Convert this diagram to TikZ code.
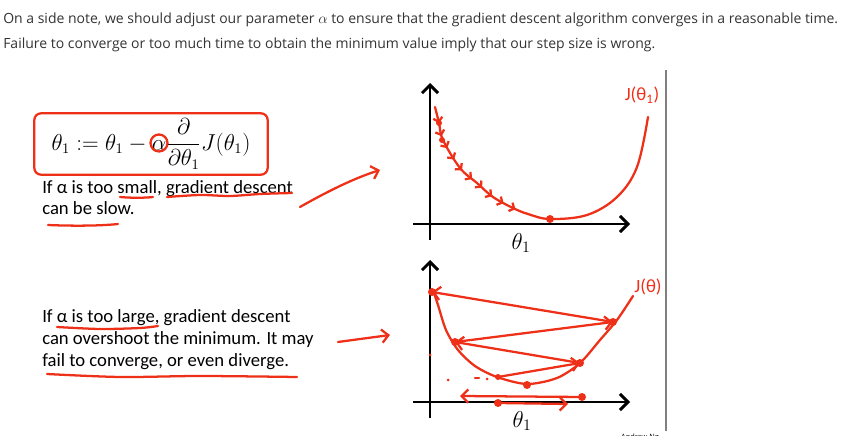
\documentclass[tikz,border=0pt]{standalone}
\usepackage[no-math]{fontspec}
\setmainfont{Carlito}
\newfontfamily\notefont{Open Sans}
\usetikzlibrary{arrows.meta,decorations.markings}
\definecolor{penred}{RGB}{238,48,24}
\definecolor{notegray}{RGB}{51,51,51}
\definecolor{rulegray}{RGB}{128,128,128}

\begin{document}
\begin{tikzpicture}[x=0.75pt, y=-0.75pt,
        note/.style   = {anchor=base west, inner sep=0pt, text=notegray,
                         font=\notefont\fontsize{10.5}{12}\selectfont},
        body/.style   = {anchor=base west, inner sep=0pt,
                         font=\fontsize{14}{16}\selectfont},
        pen/.style    = {draw=penred, line width=1.7pt, line cap=round,
                         line join=round},
        penarr/.style = {pen, -{Straight Barb[length=5pt,width=10pt]}},
        axis/.style   = {draw=black, line width=2.2pt,
                         -{Straight Barb[length=6pt,width=12pt]}},
        hand/.style   = {text=penred, inner sep=0pt,
                         font=\fontsize{14}{16}\selectfont},
        thlbl/.style  = {inner sep=0pt, font=\fontsize{17}{19}\selectfont}
    ]
        \useasboundingbox (0,0) rectangle (849,448);

        % note on top
        \node[note] (note1) at (3,24)
            {On a side note, we should adjust our parameter $\alpha$ to ensure that the gradient descent algorithm converges in a reasonable time.};
        \node[note] (note2) at (3,49)
            {Failure to converge or too much time to obtain the minimum value imply that our step size is wrong.};

        % update rule
        \node[draw=penred, line width=1.7pt, rounded corners=5pt,
              minimum width=175pt, minimum height=46pt, inner sep=0pt] (upd) at (151,144)
            {\fontsize{16}{19}\selectfont$\displaystyle \theta_1 := \theta_1 - \alpha\frac{\partial}{\partial\theta_1}J(\theta_1)$};
        \draw[pen] (159,143) circle (8.5);

        \node[body] (small1) at (42,194) {If α is too small, gradient descent};
        \node[body] (small2) at (42,215) {can be slow.};
        \node[body] (large1) at (42,323) {If α is too large, gradient descent};
        \node[body] (large2) at (42,345) {can overshoot the minimum. It may};
        \node[body] (large3) at (42,367) {fail to converge, or even diverge.};

        % underlines
        \draw[pen] (120,197) .. controls (130,198) and (145,198) .. (153,197);
        \draw[pen] plot[smooth] coordinates {(167,197) (200,195) (230,196) (260,194) (292,193)};
        \draw[pen] (48,225) .. controls (70,226) and (100,226) .. (118,224);
        \draw[pen] plot[smooth] coordinates {(57,327) (100,329) (140,328) (158,326)};
        \draw[pen] plot[smooth] coordinates {(47,374) (120,377) (200,376) (297,377)};

        % pointers
        \coordinate (ps) at (300,207);
        \coordinate (pe) at (380,170);
        \draw[penarr] (ps) .. controls (330,190) and (355,178) .. (pe);
        \coordinate (qs) at (338,342);
        \coordinate (qe) at (390,335);
        \draw[penarr] (qs) -- (qe);

        % small alpha
        \draw[axis] (430,240) -- (430,83);
        \draw[axis] (413,224) -- (630,224);
        \node[thlbl] (th1) at (521,243) {$\theta_1$};
        \draw[pen, postaction={decorate},
              decoration={markings, mark=between positions 0.05 and 0.42 step 0.04
                          with {\arrow{Straight Barb[length=3pt,width=7pt]}}}]
            plot[smooth, tension=0.6] coordinates {(435,107) (439,123) (443,140) (460,168)
                (477,183) (493,197) (513,208) (528,214) (550,219) (587,215) (617,197)
                (637,167) (648,117)};
        \fill[penred] (439,123) circle (3) (442,140) circle (3) (550,219) circle (4);
        \node[hand] (j1) at (642,95) {J(θ\textsubscript{1})};

        % large alpha
        \draw[axis] (430,418) -- (430,260);
        \draw[axis] (413,402) -- (630,402);
        \node[thlbl] (th2) at (522,421) {$\theta_1$};
        \draw[pen] plot[smooth] coordinates {(433,290) (438,305) (446,330) (458,350)
            (475,366) (497,377) (527,384) (557,378) (580,363) (600,340) (617,320) (633,296)};
        \coordinate (s0) at (498,377);
        \coordinate (s1) at (580,363);
        \coordinate (s2) at (455,342);
        \coordinate (s3) at (613,322);
        \coordinate (s4) at (432,292);
        \draw[penarr] (s0) -- (s1);
        \draw[penarr] (s1) -- (s2);
        \draw[penarr] (s2) -- (s3);
        \draw[penarr] (s3) -- (s4);
        \fill[penred] (s0) circle (3) (s1) circle (4) (s2) circle (4) (s3) circle (4)
            (s4) circle (4) (527,385) circle (4);
        \coordinate (b0) at (582,397);
        \coordinate (b1) at (460,396);
        \coordinate (b2) at (498,403);
        \coordinate (b3) at (568,404);
        \draw[penarr] (b0) -- (b1);
        \draw[penarr] (b2) -- (b3);
        \fill[penred] (b0) circle (4) (b2) circle (4) (430,355) circle (1.5)
            (448,380) circle (1.5) (487,379) circle (1.5);
        \draw[pen] (475,378) -- (479,378);
        \node[hand] (j2) at (648,287) {J(θ)};

        \draw[rulegray, line width=1.5pt] (666,70) -- (666,431);
        \begin{scope}
            \clip (600,420) rectangle (680,436);
            \node[font=\notefont\fontsize{5.5}{6}\selectfont, anchor=base] (credit) at (640,440) {Andrew Ng};
        \end{scope}
    \end{tikzpicture}
\end{document}
